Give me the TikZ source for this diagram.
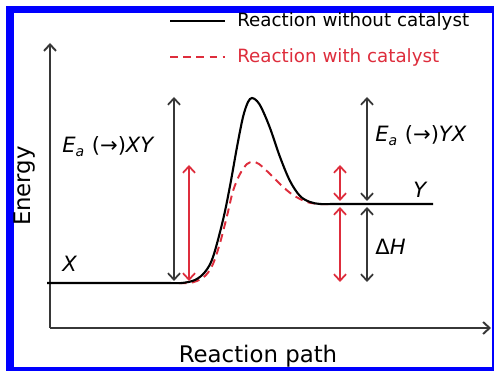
\documentclass[tikz,border=0pt]{standalone}
\usepackage{fontspec}
\setmainfont{DejaVu Sans}
\usetikzlibrary{arrows.meta}
\definecolor{frameblue}{RGB}{0,0,255}
\definecolor{catred}{RGB}{222,45,60}
\definecolor{darkline}{RGB}{55,55,55}

\begin{document}
\begin{tikzpicture}[x=0.02cm, y=-0.02cm, >={Straight Barb[length=1.3mm,width=2.4mm]},
	every node/.style={inner sep=0pt},
	curve/.style={black, line width=1.2pt},
	catcurve/.style={catred, line width=1.1pt, dash pattern=on 4.5pt off 3pt},
	level/.style={<->, darkline, line width=1pt},
	catlevel/.style={<->, catred, line width=1pt},
	lab/.style={font=\fontsize{12}{14}\selectfont, anchor=base west},
	leg/.style={font=\fontsize{10.4}{12}\selectfont, anchor=west},
	axlab/.style={font=\fontsize{13}{15}\selectfont}]
	\useasboundingbox (0,0) rectangle (494,371);
	\fill[frameblue] (6,6) rectangle (494,371);
	\fill[white] (14,13) rectangle (492,367);
	\coordinate (O) at (50,328);
	\coordinate (ytip) at (50,43);
	\coordinate (xtip) at (491,328);
	\draw[->, darkline, line width=1.1pt] (O) -- (ytip);
	\draw[->, darkline, line width=1.1pt] (O) -- (xtip);
	\node[axlab, rotate=90] (energy) at (25,186) {Energy};
	\node[axlab, anchor=base] (path) at (258,363) {Reaction path};
	\coordinate (legA) at (170,21);
	\coordinate (legB) at (225,21);
	\coordinate (legC) at (170,57);
	\coordinate (legD) at (225,57);
	\draw[curve] (legA) -- (legB);
	\draw[catcurve] (legC) -- (legD);
	\node[leg] (legtxtA) at (237,21) {Reaction without catalyst};
	\node[leg, catred] (legtxtB) at (237,57) {Reaction with catalyst};
	\draw[catcurve] (47,283) -- plot[smooth, tension=0.55] coordinates {(175,283) (188,283) (197,281) (206,275) (213,264) (220,243) (227,216) (233,191) (240,174) (247,164) (253,162) (259,164) (270,174) (281,185) (293,195) (307,202) (320,204) (330,204)};
	\draw[curve] (47,283) -- plot[smooth, tension=0.55] coordinates {(170,283) (182,283) (195,280) (205,272) (213,257) (223,220) (230,186) (237,147) (243,117) (248,102) (252,98) (257,101) (262,109) (270,128) (280,157) (290,181) (300,196) (310,202) (320,204) (332,204)} -- (433,204);
	\coordinate (XYtop) at (174,97);
	\coordinate (XYbot) at (174,281);
	\coordinate (XYtopc) at (189,165);
	\coordinate (XYbotc) at (189,281);
	\coordinate (YXtop) at (367,97);
	\coordinate (YXbot) at (367,201);
	\coordinate (YXtopc) at (340,165);
	\coordinate (YXbotc) at (340,201);
	\coordinate (dHtop) at (367,207);
	\coordinate (dHbot) at (367,282);
	\coordinate (dHtopc) at (340,207);
	\coordinate (dHbotc) at (340,282);
	\draw[level] (XYtop) -- (XYbot);
	\draw[catlevel] (XYtopc) -- (XYbotc);
	\draw[level] (YXtop) -- (YXbot);
	\draw[catlevel] (YXtopc) -- (YXbotc);
	\draw[level] (dHtop) -- (dHbot);
	\draw[catlevel] (dHtopc) -- (dHbotc);
	\node[lab] (EaXY) at (62,153) {\textit{E}\textsubscript{\textit{a}} (→)\textit{XY}};
	\node[lab] (EaYX) at (375,142) {\textit{E}\textsubscript{\textit{a}} (→)\textit{YX}};
	\node[lab] (dH) at (375,255) {Δ\textit{H}};
	\node[lab] (X) at (62,272) {\textit{X}};
	\node[lab] (Y) at (413,198) {\textit{Y}};
\end{tikzpicture}
\end{document}
